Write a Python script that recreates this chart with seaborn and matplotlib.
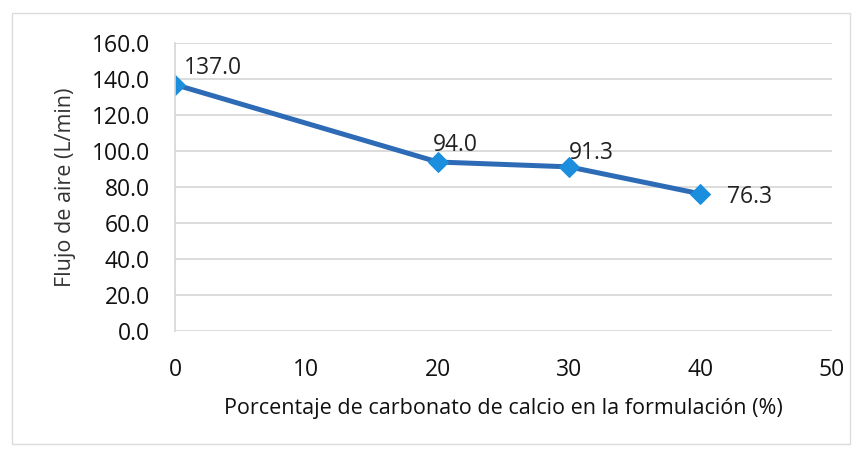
import matplotlib
matplotlib.use("Agg")
import matplotlib.pyplot as plt
import seaborn as sns
import pandas as pd
from matplotlib.patches import Rectangle

pct = [0, 20, 30, 40]
flujo = [137.0, 94.0, 91.3, 76.3]
label_offsets = [(6.5, 3), (-3.6, 3.6), (0, 1), (19, -2)]
label_va = ["bottom", "bottom", "bottom", "center"]
xticks = [0, 10, 20, 30, 40, 50]
yticks = [0, 20, 40, 60, 80, 100, 120, 140, 160]

sns.set_theme(style="white")
plt.rcParams['font.family'] = ['Open Sans', 'DejaVu Sans']

df = pd.DataFrame({"pct": pct, "flujo": flujo})

fig = plt.figure(figsize=(8.62, 4.5), dpi=100)
fig.patch.set_facecolor("white")
# outer chart border
fig.add_artist(Rectangle((12/862, 1-444/450), (850-12)/862, (444-13)/450, transform=fig.transFigure,
                         fill=False, edgecolor="#dcdcdc", linewidth=1))
ax = fig.add_axes([0.203, 0.264, 0.762, 0.640])

sns.lineplot(data=df, x="pct", y="flujo", ax=ax, color="#2d6bb6", linewidth=3.6,
             marker="D", markersize=10, markerfacecolor="#1c8ede", markeredgecolor="#1c8ede")

ax.set_xlim(0, 50)
ax.set_ylim(0, 160)
ax.set_xticks(xticks)
ax.set_yticks(yticks)
ax.set_yticklabels([f"{v:.1f}" for v in yticks])
ax.set_xticklabels([str(v) for v in xticks])
ax.tick_params(axis="both", labelsize=16.5, colors="#111111", length=0)
ax.tick_params(axis="x", pad=19)
ax.tick_params(axis="y", pad=18)
ax.grid(axis="y", color="#d6d6d6", linewidth=1.2)
for s in ["top", "right", "bottom"]:
    ax.spines[s].set_visible(False)
ax.spines["left"].set_color("#d6d6d6")
ax.spines["left"].set_linewidth(1.2)

ax.set_xlabel("Porcentaje de carbonato de calcio en la formulación (%)", fontsize=15.5,
              color="#111111", labelpad=12)
ax.set_ylabel("Flujo de aire (L/min)", fontsize=15.5, color="#333333", labelpad=11)

for x, y, (dx, dy), va in zip(pct, flujo, label_offsets, label_va):
    ax.annotate(f"{y:.1f}", (x, y), xytext=(dx, dy), textcoords="offset points",
                fontsize=16.5, color="#222222", ha="left", va=va)

fig.savefig("out.png", dpi=100, facecolor="white")
